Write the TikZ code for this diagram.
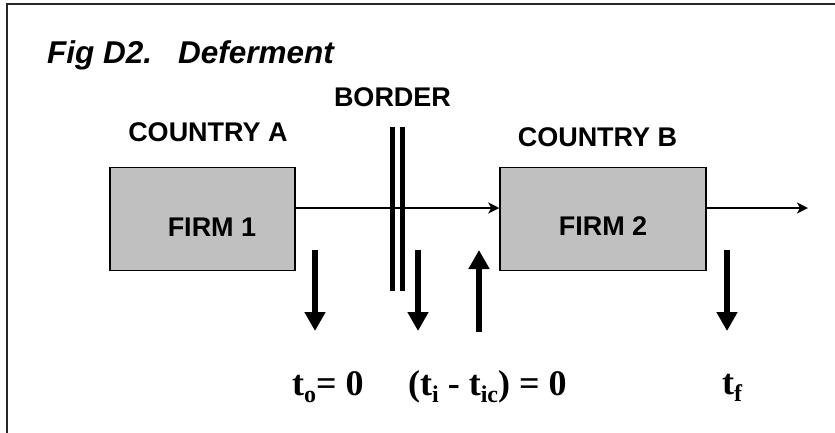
\documentclass[tikz,border=0pt]{standalone}
\usepackage{fontspec}
\setmainfont{Liberation Sans}
\newfontfamily\tnr{Liberation Serif}
\usetikzlibrary{arrows.meta}
\definecolor{boxgrey}{RGB}{192,192,192}
\newcommand{\tsub}[1]{\raisebox{-0.2em}{\fontsize{24}{24}\selectfont #1}}

\begin{document}
\begin{tikzpicture}[x=1pt,y=-1pt,
	firm/.style={draw=black,line width=1.5pt,fill=boxgrey,minimum width=#1,minimum height=103pt,inner sep=0pt},
	lbl/.style={anchor=base,inner sep=0pt,font=\fontsize{27}{30}\selectfont\bfseries},
	tlbl/.style={anchor=base west,inner sep=0pt,font=\tnr\fontsize{36}{40}\selectfont\bfseries},
	flow/.style={line width=2pt,-{Stealth[length=11pt,width=11pt,inset=3pt]}},
	fat/.style={line width=6.5pt,-{Triangle[width=20pt,length=19pt]}}]
				\useasboundingbox (0,0) rectangle (835,432);
				\def\flowy{208};
				\def\btop{127};
				\def\bbot{291};
				% frame
				\draw[line width=2pt,black!85] (6.5,445) -- (6.5,3.5) -- (845,3.5);
				\node[anchor=base west,inner sep=0pt,font=\fontsize{31.5}{34}\selectfont\bfseries\itshape] (title) at (47,63) {Fig D2.\hspace{26pt}Deferment};
				% firms
				\node[firm=185pt] (firm1) at (202.5,219) {};
				\node[firm=206pt] (firm2) at (603,219) {};
				\node[lbl] (firm1txt) at (212,236) {FIRM 1};
				\node[lbl] (firm2txt) at (603,235) {FIRM 2};
				\node[lbl] (ctryA) at (208,141) {COUNTRY A};
				\node[lbl] (ctryB) at (597.5,146) {COUNTRY B};
				\node[lbl] (border) at (392.5,106.5) {BORDER};
				% goods flow
				\coordinate (flow) at (0,\flowy);
				\coordinate (exit) at (808,\flowy);
				\draw[flow] (firm1.east |- flow) -- (firm2.west |- flow);
				\draw[flow] (firm2.east |- flow) -- (exit);
				\draw[line width=5pt] (392.5,\btop) -- (392.5,\bbot) (402,\btop) -- (402,\bbot);
				% duties
				\foreach \x in {315,418,727}
					\draw[fat] (\x,250) -- (\x,331);
				\draw[fat] (479,332) -- (479,250);
				\node[tlbl] (tzero) at (292,395) {t\tsub{o}= 0};
				\node[tlbl] (tdiff) at (408,395) {(t\tsub{i} - t\tsub{ic}) = 0};
				\node[tlbl] (tfin) at (722,394) {t\tsub{f}};
			\end{tikzpicture}
\end{document}
